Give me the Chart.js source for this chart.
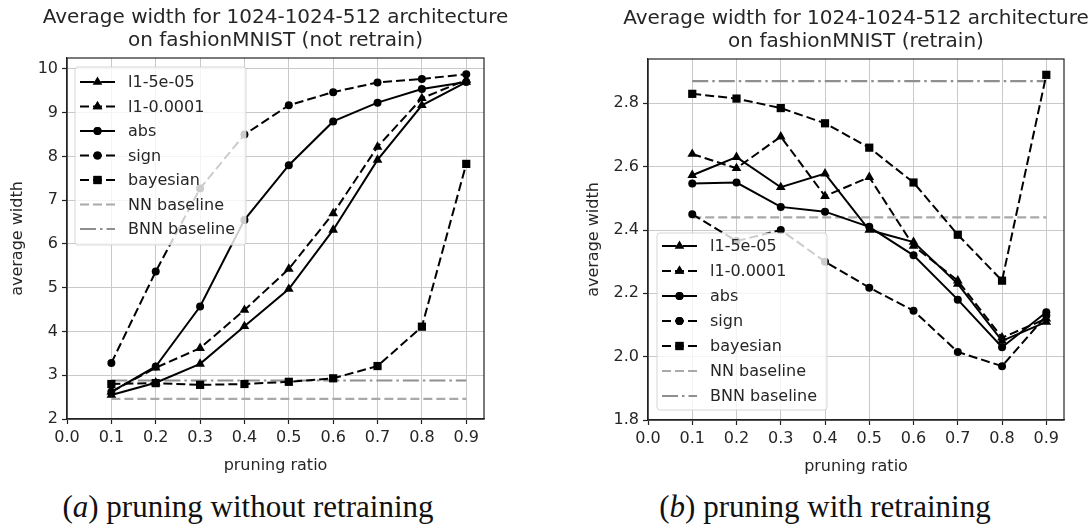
<!DOCTYPE html>
<html>
<head>
<meta charset="utf-8">
<script src="https://cdn.jsdelivr.net/npm/chart.js@4.4.0/dist/chart.umd.min.js"></script>
<style>
  html, body { margin: 0; padding: 0; background: #fff; width: 1091px; height: 525px; overflow: hidden; }
  .wrap { position: absolute; }
  #w1 { left: 0; top: 0; width: 530px; height: 480px; }
  #w2 { left: 576px; top: 1px; width: 515px; height: 480px; }
  .cap { position: absolute; top: 491px; line-height: 31px; font-family: "Liberation Serif", "DejaVu Serif", serif; font-size: 31px; color: #111; white-space: nowrap; transform: translateX(-50%); }
  #c1 { left: 248px; }
  #c2 { left: 825px; }
</style>
</head>
<body>
<div class="wrap" id="w1"><canvas id="chart1" width="530" height="480"></canvas></div>
<div class="wrap" id="w2"><canvas id="chart2" width="515" height="480"></canvas></div>
<div class="cap" id="c1">(<i>a</i>) pruning without retraining</div>
<div class="cap" id="c2">(<i>b</i>) pruning with retraining</div>
<script>
// ---- data ----
const pruningRatios = [0.1, 0.2, 0.3, 0.4, 0.5, 0.6, 0.7, 0.8, 0.9];
const xTicks = [0.0, 0.1, 0.2, 0.3, 0.4, 0.5, 0.6, 0.7, 0.8, 0.9];

// (a) not retrain
const noRetrainL1_5e05  = [2.55, 2.83, 3.26, 4.12, 4.97, 6.32, 7.92, 9.17, 9.70];
const noRetrainL1_1e04  = [2.62, 3.17, 3.62, 4.49, 5.43, 6.70, 8.22, 9.33, 9.75];
const noRetrainAbs      = [2.62, 3.20, 4.57, 6.55, 7.80, 8.80, 9.23, 9.54, 9.70];
const noRetrainSign     = [3.28, 5.37, 7.27, 8.50, 9.17, 9.47, 9.69, 9.77, 9.88];
const noRetrainBayesian = [2.80, 2.82, 2.78, 2.80, 2.85, 2.93, 3.21, 4.11, 7.83];
const noRetrainNN  = 2.46;
const noRetrainBNN = 2.88;
const yTicksA = [2, 3, 4, 5, 6, 7, 8, 9, 10];

// (b) retrain
const retrainL1_5e05  = [2.573, 2.630, 2.535, 2.578, 2.400, 2.362, 2.230, 2.050, 2.110];
const retrainL1_1e04  = [2.640, 2.595, 2.695, 2.507, 2.567, 2.350, 2.240, 2.060, 2.120];
const retrainAbs      = [2.547, 2.550, 2.473, 2.458, 2.410, 2.320, 2.180, 2.030, 2.140];
const retrainSign     = [2.450, 2.365, 2.400, 2.300, 2.218, 2.145, 2.015, 1.970, 2.130];
const retrainBayesian = [2.830, 2.815, 2.785, 2.737, 2.660, 2.550, 2.385, 2.240, 2.890];
const retrainNN  = 2.44;
const retrainBNN = 2.87;
const yTicksB = [1.8, 2.0, 2.2, 2.4, 2.6, 2.8];

const seriesLabels = ['l1-5e-05', 'l1-0.0001', 'abs', 'sign', 'bayesian', 'NN baseline', 'BNN baseline'];

// ---- styling ----
const TXT = '#262626';
const FONT = 'DejaVu Sans';
const DASH = [9, 4];
const DASHDOT = [16, 4, 2.5, 4];

function pts(vals) { return pruningRatios.map((x, i) => ({ x: x, y: vals[i] })); }
function flat(v) { return [{ x: pruningRatios[0], y: v }, { x: pruningRatios[pruningRatios.length - 1], y: v }]; }

function makeDatasets(s) {
  const base = { borderColor: '#000', backgroundColor: '#000', borderWidth: 2, pointBorderWidth: 0, tension: 0, fill: false };
  return [
    Object.assign({}, base, { label: seriesLabels[0], data: pts(s[0]), pointStyle: 'triangle', pointRadius: 5.6, borderDash: [] }),
    Object.assign({}, base, { label: seriesLabels[1], data: pts(s[1]), pointStyle: 'triangle', pointRadius: 5.6, borderDash: DASH }),
    Object.assign({}, base, { label: seriesLabels[2], data: pts(s[2]), pointStyle: 'circle', pointRadius: 4, borderDash: [] }),
    Object.assign({}, base, { label: seriesLabels[3], data: pts(s[3]), pointStyle: 'circle', pointRadius: 4, borderDash: DASH }),
    Object.assign({}, base, { label: seriesLabels[4], data: pts(s[4]), pointStyle: 'rect', pointRadius: 5.8, borderDash: DASH }),
    { label: seriesLabels[5], data: flat(s[5]), borderColor: '#a9a9a9', borderWidth: 2.2, borderDash: DASH, pointRadius: 0, fill: false },
    { label: seriesLabels[6], data: flat(s[6]), borderColor: '#8f8f8f', borderWidth: 2.2, borderDash: DASHDOT, pointRadius: 0, fill: false }
  ];
}

// widen the title box symmetrically (keeps it centred over the plot, avoids squeezing)
const titleWidenPlugin = {
  id: 'titleWiden',
  afterLayout(chart) {
    const t = chart.titleBlock;
    if (t) { t.left -= 40; t.right += 40; t.width = t.right - t.left; }
  }
};

// frame + in-plot legend
const framePlugin = {
  id: 'frameLegend',
  afterDatasetsDraw(chart, args, opts) {
    const ctx = chart.ctx, a = chart.chartArea;
    const L = opts.box;
    const bx = a.left + L.dx;
    const by = L.fromBottom ? a.bottom - L.dy - L.h : a.top + L.dy;
    ctx.save();
    ctx.beginPath();
    const r = 3;
    ctx.moveTo(bx + r, by);
    ctx.arcTo(bx + L.w, by, bx + L.w, by + L.h, r);
    ctx.arcTo(bx + L.w, by + L.h, bx, by + L.h, r);
    ctx.arcTo(bx, by + L.h, bx, by, r);
    ctx.arcTo(bx, by, bx + L.w, by, r);
    ctx.closePath();
    ctx.fillStyle = 'rgba(255,255,255,0.8)';
    ctx.fill();
    ctx.strokeStyle = 'rgba(204,204,204,0.8)';
    ctx.lineWidth = 1;
    ctx.stroke();
    chart.data.datasets.forEach((ds, i) => {
      const y = by + L.first + i * L.step;
      const x0 = bx + 5, x1 = bx + 40;
      ctx.beginPath();
      ctx.setLineDash(ds.borderDash || []);
      ctx.strokeStyle = ds.borderColor;
      ctx.lineWidth = ds.borderWidth;
      ctx.moveTo(x0, y); ctx.lineTo(x1, y);
      ctx.stroke();
      ctx.setLineDash([]);
      if (ds.pointRadius > 0) {
        Chart.helpers.drawPoint(ctx, { pointStyle: ds.pointStyle, radius: ds.pointRadius, rotation: 0, borderWidth: 0 }, (x0 + x1) / 2, y);
        ctx.fillStyle = '#000';
        ctx.fill();
      }
      ctx.fillStyle = TXT;
      ctx.font = '16px "' + FONT + '"';
      ctx.textBaseline = 'middle';
      ctx.textAlign = 'left';
      ctx.fillText(ds.label, bx + 53, y + 1);
    });
    ctx.strokeStyle = '#222';
    ctx.lineWidth = 1.2;
    ctx.strokeRect(a.left, a.top, a.right - a.left, a.bottom - a.top);
    ctx.restore();
  }
};

function makeChart(id, series, title, yMin, yMax, yTicks, yFmt, yWidth, padRight, legendBox) {
  return new Chart(document.getElementById(id), {
    type: 'line',
    data: { datasets: makeDatasets(series) },
    options: {
      responsive: false,
      animation: false,
      devicePixelRatio: 1,
      layout: { padding: { left: 0, right: padRight, top: 0, bottom: 0 } },
      plugins: {
        legend: { display: false },
        tooltip: { enabled: false },
        title: {
          display: true, text: title, color: TXT, fullSize: false,
          font: { family: FONT, size: 20, weight: 'normal', lineHeight: 1.15 },
          padding: { top: 6.5, bottom: 5.5 }
        },
        frameLegend: { box: legendBox }
      },
      scales: {
        x: {
          type: 'linear', min: 0, max: 0.94,
          afterBuildTicks: (s) => { s.ticks = xTicks.map(v => ({ value: v })); },
          afterFit: (s) => { s.height = 61; },
          ticks: { callback: v => v.toFixed(1), color: TXT, font: { family: FONT, size: 16 }, padding: 4, maxRotation: 0, autoSkip: false },
          grid: { color: '#c9c9c9', lineWidth: 1, tickColor: '#222', tickLength: 5, tickWidth: 1.2 },
          border: { display: true, color: '#222', width: 1.2 },
          title: { display: true, text: 'pruning ratio', color: TXT, font: { family: FONT, size: 16 }, padding: { top: 0, bottom: 5 } }
        },
        y: {
          type: 'linear', min: yMin, max: yMax,
          afterBuildTicks: (s) => { s.ticks = yTicks.map(v => ({ value: v })); },
          afterFit: (s) => { s.width = yWidth; },
          ticks: { callback: yFmt, color: TXT, font: { family: FONT, size: 16 }, padding: 4, autoSkip: false },
          grid: { color: '#c9c9c9', lineWidth: 1, tickColor: '#222', tickLength: 5, tickWidth: 1.2 },
          border: { display: true, color: '#222', width: 1.2 },
          title: { display: true, text: 'average width', color: TXT, font: { family: FONT, size: 16 }, padding: { top: 8, bottom: 0 } }
        }
      }
    },
    plugins: [titleWidenPlugin, framePlugin]
  });
}

makeChart('chart1',
  [noRetrainL1_5e05, noRetrainL1_1e04, noRetrainAbs, noRetrainSign, noRetrainBayesian, noRetrainNN, noRetrainBNN],
  ['Average width for 1024-1024-512 architecture', 'on fashionMNIST (not retrain)'],
  2, 10.25, yTicksA, v => String(Math.round(v)), 67, 46,
  { dx: 8, dy: 9, w: 171, h: 178, first: 15, step: 24.5, fromBottom: false });

makeChart('chart2',
  [retrainL1_5e05, retrainL1_1e04, retrainAbs, retrainSign, retrainBayesian, retrainNN, retrainBNN],
  ['Average width for 1024-1024-512 architecture', 'on fashionMNIST (retrain)'],
  1.8, 2.94, yTicksB, v => v.toFixed(1), 72, 27,
  { dx: 9, dy: 10, w: 170, h: 177, first: 13, step: 25, fromBottom: true });
</script>
</body>
</html>
